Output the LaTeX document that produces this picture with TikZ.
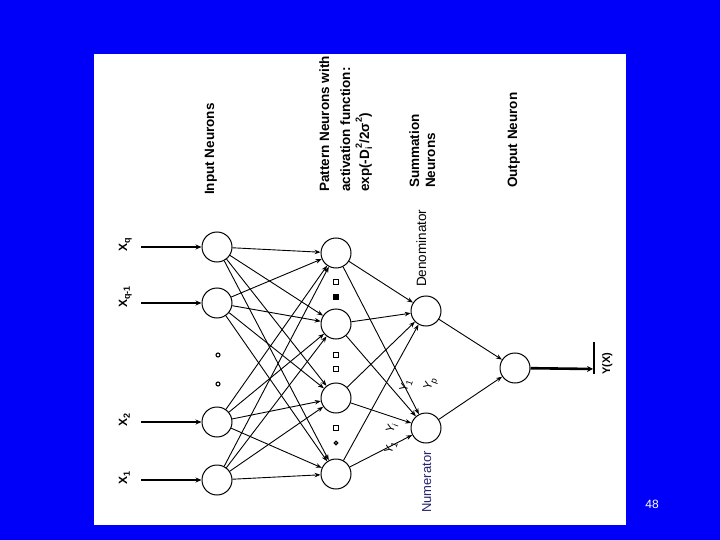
\documentclass[tikz,border=0pt]{standalone}
\usepackage{fontspec}
\setmainfont{Liberation Sans}
\usetikzlibrary{arrows.meta}
\definecolor{bgblue}{RGB}{0,0,250}
\definecolor{numblue}{RGB}{35,35,110}
\newcommand{\mysb}[1]{\raisebox{-0.45ex}{\fontsize{9}{9}\selectfont #1}}
\newcommand{\mysp}[1]{\raisebox{1.0ex}{\fontsize{9}{9}\selectfont #1}}
\begin{document}
\begin{tikzpicture}[x=1pt,y=-1pt,
  neuron/.style={circle,draw,line width=1pt,minimum size=30pt,inner sep=0pt,fill=white},
  conn/.style={line width=0.9pt,-{Stealth[length=6pt,width=4.5pt]}},
  inconn/.style={line width=2pt,-{Stealth[length=6pt,width=5pt]}},
  outconn/.style={line width=2.6pt,-{Stealth[length=6pt,width=6pt]}},
  head/.style={font=\fontsize{13.5}{15}\selectfont\bfseries,rotate=90,inner sep=0pt,anchor=base west},
  plain/.style={font=\fontsize{13}{15}\selectfont,rotate=90,inner sep=0pt,anchor=base west},
  xlab/.style={font=\fontsize{12}{14}\selectfont\bfseries,rotate=90,inner sep=0pt,anchor=base west},
  ylab/.style={font=\fontsize{11.5}{13}\selectfont,rotate=70,inner sep=0pt},
  dotc/.style={circle,draw,line width=1.1pt,minimum size=4pt,inner sep=0pt},
  dots/.style={rectangle,draw,line width=1.1pt,minimum size=4.5pt,inner sep=0pt}]
\useasboundingbox (0,0) rectangle (720,540);
\fill[bgblue] (0,0) rectangle (720,540);
\fill[white] (94,54) rectangle (626,525);

% headings
\node[head] (hin) at (214,195) {Input Neurons};
\node[head] (hp1) at (329,192) {Pattern Neurons with};
\node[head] (hp2) at (350,192) {activation function:};
\node[head] (hp3) at (369,192) {exp(-D\mysb{i}\hspace{-1pt}\mysp{2}/2σ\mysp{2})};
\node[head] (hs1) at (419,188) {Summation};
\node[head] (hs2) at (435,188) {Neurons};
\node[head] (ho) at (517,188) {Output Neuron};

% neurons
\node[neuron] (iq)  at (217,247) {};
\node[neuron] (iq1) at (217,303) {};
\node[neuron] (i2)  at (217,422) {};
\node[neuron] (i1)  at (217,480) {};
\node[neuron] (pd) at (336,253) {};
\node[neuron] (pc) at (336,324) {};
\node[neuron] (pb) at (336,398) {};
\node[neuron] (pa) at (336,474) {};
\node[neuron] (den) at (426,311) {};
\node[neuron] (num) at (426,428) {};
\node[neuron] (out) at (515,368) {};

% inputs
\coordinate (sq)  at (141,247);
\coordinate (sq1) at (141,303);
\coordinate (s2)  at (141,422);
\coordinate (s1)  at (141,480);
\draw[inconn] (sq) -- (iq);
\draw[inconn] (sq1) -- (iq1);
\draw[inconn] (s2) -- (i2);
\draw[inconn] (s1) -- (i1);
\node[xlab] (xq)  at (127,252) {X\mysb{q}};
\node[xlab] (xq1) at (127,308) {X\mysb{q-1}};
\node[xlab] (x2)  at (127,427) {X\mysb{2}};
\node[xlab] (x1)  at (127,485) {X\mysb{1}};

% connections
\foreach \a in {iq,iq1,i2,i1}
  \foreach \b in {pd,pc,pb,pa}
    \draw[conn] (\a) -- (\b);
\foreach \b in {pd,pc,pb,pa} {
  \draw[conn] (\b) -- (den);
  \draw[conn] (\b) -- (num);
}
\draw[conn] (den) -- (out);
\draw[conn] (num) -- (out);

% output
\coordinate (oe) at (593,369);
\coordinate (bt) at (594,342);
\coordinate (bb) at (594,374);
\draw[outconn] (out) -- (oe);
\draw[line width=2.4pt] (bt) -- (bb);
\node[font=\fontsize{11}{13}\selectfont\bfseries,rotate=90,inner sep=0pt,anchor=base west] (yx) at (610,375) {Y(X)};

% summation labels
\node[plain,font=\fontsize{13.5}{15}\selectfont] (dl) at (426,287) {Denominator};
\node[plain,text=numblue] (nl) at (431,513) {Numerator};

% weight labels
\node[ylab] (y1) at (391,448) {Y\mysb{1}};
\node[ylab] (yi) at (392,428) {Y\mysb{i}};
\node[ylab] (yj) at (406,386) {Y\mysb{1}};
\node[ylab] (yp) at (431,384) {Y\mysb{p}};

% ellipsis dots
\node[dotc] (d1) at (218,355) {};
\node[dotc] (d2) at (218,384) {};
\node[dots] (e1) at (336,282) {};
\node[dots,fill=black] (e2) at (336,297) {};
\node[dots] (e3) at (336,355) {};
\node[dots] (e4) at (336,369) {};
\node[dots] (e5) at (336,428) {};
\node[dotc,minimum size=3.5pt] (e6) at (336,443) {};

% page number
\node[text=white,font=\fontsize{12}{14}\selectfont,inner sep=0pt] (pg) at (652,504) {48};
\end{tikzpicture}
\end{document}
